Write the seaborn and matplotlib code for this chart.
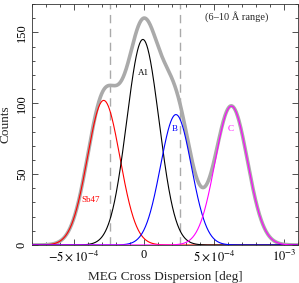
import numpy as np
import pandas as pd
import matplotlib
matplotlib.use('Agg')
import matplotlib.pyplot as plt
import seaborn as sns
from matplotlib.ticker import MultipleLocator, FixedLocator, FixedFormatter

# ---- data ----
components = ['Sb47', 'A1', 'B', 'C']
amplitudes = [102, 145, 92, 98]                     # counts
centers = [-2.88e-4, -0.08e-4, 2.28e-4, 6.24e-4]    # deg
sigmas = [1.16e-4, 1.15e-4, 1.10e-4, 1.15e-4]       # deg
comp_colors = ['red', 'black', 'blue', 'magenta']
range_bounds = [-2.45e-4, 2.6e-4]                   # dashed lines
xtick_vals = [-5e-4, 0, 5e-4, 1e-3]
xtick_labels = [r'$-5\times10^{-4}$', '0', r'$5\times10^{-4}$', r'$10^{-3}$']
ytick_vals = [0, 50, 100, 150]
ytick_labels = ['0', '50', '100', '150']

sns.set_theme(style='ticks')
plt.rcParams['font.family'] = ['Liberation Serif', 'DejaVu Serif']
plt.rcParams['mathtext.fontset'] = 'stix'

x = np.linspace(-8e-4, 1.1e-3, 800)
frames = []
for name, a, c, s in zip(components, amplitudes, centers, sigmas):
    frames.append(pd.DataFrame({'x': x, 'y': a * np.exp(-0.5 * ((x - c) / s) ** 2), 'comp': name}))
df = pd.concat(frames, ignore_index=True)
total = df.groupby('x', as_index=False)['y'].sum()

fig = plt.figure(figsize=(2.99, 2.83), dpi=100)
ax = fig.add_axes([32 / 299, 1 - 245 / 283, 266 / 299, 241 / 283])

for b in range_bounds:
    ax.axvline(b, color='#aaaaaa', lw=1.0, dashes=(6, 4), zorder=1)

sns.lineplot(data=total, x='x', y='y', color='#aaaaaa', lw=2.6, ax=ax, zorder=2)
for name, col in zip(components, comp_colors):
    sns.lineplot(data=df[df['comp'] == name], x='x', y='y', color=col, lw=0.8, ax=ax, zorder=3)

ax.set_xlim(-8e-4, 1.1e-3)
ax.set_ylim(0, 170)
ax.xaxis.set_major_locator(FixedLocator(xtick_vals))
ax.xaxis.set_major_formatter(FixedFormatter(xtick_labels))
ax.xaxis.set_minor_locator(MultipleLocator(1e-4))
ax.yaxis.set_major_locator(FixedLocator(ytick_vals))
ax.yaxis.set_major_formatter(FixedFormatter(ytick_labels))
ax.yaxis.set_minor_locator(MultipleLocator(10))
ax.tick_params(which='both', direction='in', top=True, right=True, width=0.6, colors='#333333',
               labelcolor='black', labelsize=9, pad=3)
ax.tick_params(which='major', length=4)
ax.tick_params(which='minor', length=2)
for lab in ax.get_yticklabels():
    lab.set_rotation(90)
    lab.set_va('center')
for sp in ax.spines.values():
    sp.set_linewidth(0.6)
    sp.set_color('#333333')

ax.set_xlabel('MEG Cross Dispersion [deg]', fontsize=9.5, labelpad=5)
ax.set_ylabel('Counts', fontsize=9.5, labelpad=3)

ax.text(-3.78e-4, 31.7, 'Sb47', color='red', fontsize=6.5, ha='center', va='center')
ax.text(-0.07e-4, 121, 'A1', color='black', fontsize=6.5, ha='center', va='center')
ax.text(2.2e-4, 81.7, 'B', color='blue', fontsize=6.5, ha='center', va='center')
ax.text(6.17e-4, 81.7, 'C', color='magenta', fontsize=6.5, ha='center', va='center')
ax.text(0.771, 0.95, '(6–10 Å range)', transform=ax.transAxes, fontsize=7.5, ha='center', va='center')

fig.savefig('out.png', dpi=100)
